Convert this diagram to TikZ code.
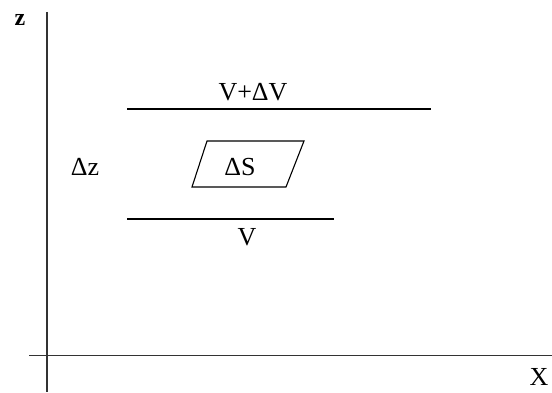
\documentclass[tikz,border=0pt]{standalone}
\usepackage{fontspec}
\setmainfont{Liberation Serif}
\begin{document}
\begin{tikzpicture}[x=1pt, y=1pt,
  axis/.style={line width=1.6pt, black!80},
  level/.style={line width=1.4pt, black},
  lbl/.style={font=\fontsize{26}{29}\selectfont, inner sep=0pt}]
% Frame: 552 x 392 px, one unit = 1pt
\useasboundingbox (0,0) rectangle (552,392);

% Axes
\draw[axis] (47, 380) -- (47, 0);
\draw[axis] (29, 36.5) -- (552, 36.5);
\node[lbl, font=\fontsize{24}{27}\selectfont\bfseries] (lblZ) at (20, 372) {z};
\node[lbl, anchor=base] (lblX) at (539, 7) {X};

% Upper level V+dV and lower level V
\draw[level] (127, 283) -- (431, 283);
\node[lbl] (lblUpper) at (253, 300) {V+ΔV};
\draw[level] (127, 173) -- (334, 173);
\node[lbl] (lblLower) at (247, 155) {V};

% Surface element dS
\draw[line width=1.1pt] (207, 251) -- (304, 251) -- (286, 205) -- (192, 205) -- cycle;
\node[lbl] (lblArea) at (240, 225) {ΔS};

% Height step
\node[lbl] (lblDz) at (85, 225) {Δz};
\end{tikzpicture}
\end{document}
